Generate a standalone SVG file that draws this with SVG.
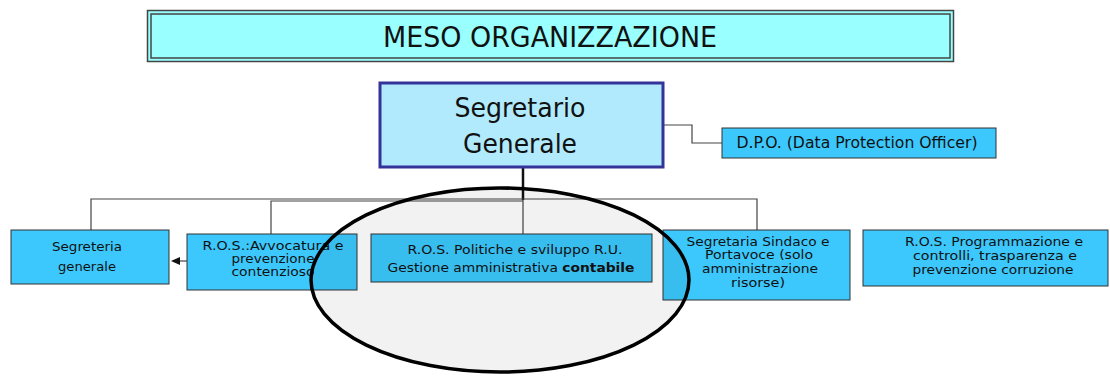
<svg xmlns="http://www.w3.org/2000/svg" width="1110" height="376" viewBox="0 0 1110 376">
<style>
.box{fill:#3cc8fc;stroke:#333;stroke-width:1}
.t{font-family:"DejaVu Sans",Verdana,sans-serif;font-size:12.5px;fill:#111;text-anchor:middle}
.c{fill:none;stroke:#444;stroke-width:1.2}
</style>
<defs>
<marker id="ah" markerWidth="9" markerHeight="8" refX="1" refY="4" orient="auto" markerUnits="userSpaceOnUse">
<path d="M0,0 L9,4 L0,8 Z" fill="#111"/>
</marker>
</defs>
<rect width="1110" height="376" fill="#fff"/>
<g id="title">
<rect x="147.5" y="10.5" width="806" height="51" fill="#99ffff" stroke="#444" stroke-width="1.5"/>
<rect x="151" y="14" width="799" height="44" fill="none" stroke="#444" stroke-width="1.5"/>
<text x="550" y="47" font-family="'DejaVu Sans',sans-serif" font-stretch="condensed" font-size="29" fill="#111" text-anchor="middle" textLength="334" lengthAdjust="spacingAndGlyphs">MESO ORGANIZZAZIONE</text>
</g>
<g id="connectors">
<path class="c" d="M663,125 H692 V143 H722"/>
<path d="M523,168 V200" stroke="#111" stroke-width="2.5" fill="none"/>
<path class="c" d="M91,230 V199 H757 V230"/>
<path class="c" d="M271,234 V201 H523"/>
<path class="c" d="M523,200 V234"/>
<path class="c" d="M187,261 H179" stroke="#111" marker-end="url(#ah)"/>
</g>
<g id="segretario">
<rect x="380" y="83" width="283" height="84" fill="#b0eafc" stroke="#333399" stroke-width="3"/>
<text x="520" y="117" font-family="'DejaVu Sans',sans-serif" font-stretch="condensed" font-size="26" fill="#111" text-anchor="middle" textLength="131" lengthAdjust="spacingAndGlyphs">Segretario</text>
<text x="520" y="153" font-family="'DejaVu Sans',sans-serif" font-stretch="condensed" font-size="26" fill="#111" text-anchor="middle" textLength="114" lengthAdjust="spacingAndGlyphs">Generale</text>
</g>
<g id="dpo">
<rect class="box" x="722" y="128" width="274" height="30"/>
<text x="857" y="148" font-family="'DejaVu Sans',sans-serif" font-stretch="condensed" font-size="15" fill="#111" text-anchor="middle" textLength="241" lengthAdjust="spacingAndGlyphs">D.P.O. (Data Protection Officer)</text>
</g>
<g id="segreteria">
<rect class="box" x="11" y="230" width="158" height="54"/>
<text class="t" x="87" y="251" textLength="70" lengthAdjust="spacingAndGlyphs">Segreteria</text>
<text class="t" x="87" y="271" textLength="58" lengthAdjust="spacingAndGlyphs">generale</text>
</g>
<g id="avvocatura">
<rect class="box" x="187" y="234" width="170" height="56"/>
<text class="t" x="273" y="250" textLength="141" lengthAdjust="spacingAndGlyphs">R.O.S.:Avvocatura e</text>
<text class="t" x="273" y="263" textLength="83" lengthAdjust="spacingAndGlyphs">prevenzione</text>
<text class="t" x="273" y="276" textLength="83" lengthAdjust="spacingAndGlyphs">contenzioso</text>
</g>
<g id="politiche">
<rect class="box" x="371" y="234" width="281" height="48"/>
<text class="t" x="515" y="254" textLength="215" lengthAdjust="spacingAndGlyphs">R.O.S. Politiche e sviluppo R.U.</text>
<text class="t" x="511" y="272" textLength="247" lengthAdjust="spacingAndGlyphs">Gestione amministrativa <tspan font-weight="bold">contabile</tspan></text>
</g>
<g id="sindaco">
<rect class="box" x="663" y="230" width="187" height="70"/>
<text class="t" x="758" y="246" textLength="143" lengthAdjust="spacingAndGlyphs">Segretaria Sindaco e</text>
<text class="t" x="759" y="259" textLength="108" lengthAdjust="spacingAndGlyphs">Portavoce (solo</text>
<text class="t" x="760" y="273" textLength="116" lengthAdjust="spacingAndGlyphs">amministrazione</text>
<text class="t" x="758" y="287" textLength="54" lengthAdjust="spacingAndGlyphs">risorse)</text>
</g>
<g id="programmazione">
<rect class="box" x="863" y="230" width="245" height="56"/>
<text class="t" x="994" y="246" textLength="178" lengthAdjust="spacingAndGlyphs">R.O.S. Programmazione e</text>
<text class="t" x="995" y="260" textLength="164" lengthAdjust="spacingAndGlyphs">controlli, trasparenza e</text>
<text class="t" x="993" y="274" textLength="161" lengthAdjust="spacingAndGlyphs">prevenzione corruzione</text>
</g>
<g id="ellipse">
<ellipse cx="500" cy="280" rx="189" ry="92" fill="#000" fill-opacity="0.05" stroke="#000" stroke-width="3.5"/>
</g>
</svg>
